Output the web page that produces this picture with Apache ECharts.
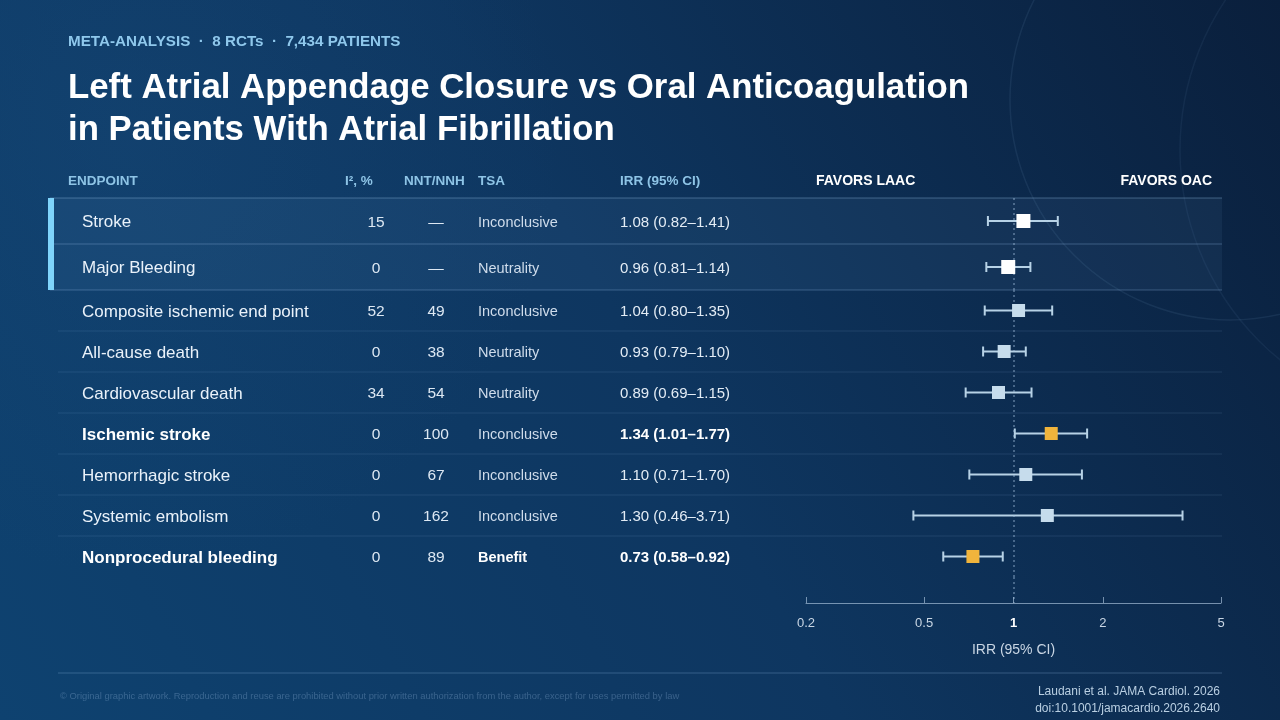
<!DOCTYPE html>
<html>
<head>
<meta charset="utf-8">
<script src="https://cdn.jsdelivr.net/npm/echarts@6/dist/echarts.min.js"></script>
<style>
html,body{margin:0;padding:0;background:#0c2b4d;}
#c{width:1280px;height:720px;}
</style>
</head>
<body>
<div id="c"></div>
<script>
// ---------- DATA ----------
var endpoints = ['Stroke','Major Bleeding','Composite ischemic end point','All-cause death','Cardiovascular death','Ischemic stroke','Hemorrhagic stroke','Systemic embolism','Nonprocedural bleeding'];
var i2Values = [15, 0, 52, 0, 34, 0, 0, 0, 0];
var nntValues = ['—', '—', 49, 38, 54, 100, 67, 162, 89];
var tsaValues = ['Inconclusive','Neutrality','Inconclusive','Neutrality','Neutrality','Inconclusive','Inconclusive','Inconclusive','Benefit'];
var irrValues = [1.08, 0.96, 1.04, 0.93, 0.89, 1.34, 1.10, 1.30, 0.73];
var ciLow = [0.82, 0.81, 0.80, 0.79, 0.69, 1.01, 0.71, 0.46, 0.58];
var ciHigh = [1.41, 1.14, 1.35, 1.10, 1.15, 1.77, 1.70, 3.71, 0.92];
var primaryCount = 2;
var axisTicks = [0.2, 0.5, 1, 2, 5];

// ---------- LAYOUT ----------
var FONT = '"Liberation Sans", Arial, Helvetica, sans-serif';
var TABLE_TOP = 198, PRIMARY_H = 46, ROW_H = 41;
var PLOT_L = 806, PLOT_R = 1221;
var secTop = TABLE_TOP + primaryCount * PRIMARY_H;
var secH = (endpoints.length - primaryCount) * ROW_H;
var axisY = 603;

function sig(i){ return ciLow[i] > 1 || ciHigh[i] < 1; }
function fmt(v){ return v.toFixed(2); }

// table columns: anchor x, alignment, text getter, bold rule, styles
var columns = [
  {x: 82, align: 'left', text: function(i){ return endpoints[i]; }, bold: function(i){ return sig(i); },
   st: {fontSize: 17, color: '#eaf2fa'}},
  {x: 376, align: 'center', text: function(i){ return String(i2Values[i]); }, bold: function(){ return false; },
   st: {fontSize: 15.5, color: '#dde8f3'}},
  {x: 436, align: 'center', text: function(i){ return String(nntValues[i]); }, bold: function(){ return false; },
   st: {fontSize: 15.5, color: '#dde8f3'}},
  {x: 478, align: 'left', text: function(i){ return tsaValues[i]; }, bold: function(i){ return tsaValues[i] === 'Benefit'; },
   st: {fontSize: 14.5, color: '#cfdceb'}},
  {x: 620, align: 'left', text: function(i){ return fmt(irrValues[i]) + ' (' + fmt(ciLow[i]) + '–' + fmt(ciHigh[i]) + ')'; }, bold: function(i){ return sig(i); },
   st: {fontSize: 15, color: '#e3ecf5'}}
];

function xAxisCfg(gi, showAxis){
  return {
    type: 'log', gridIndex: gi, min: 0.2, max: 5, logBase: 10,
    axisLine: {show: showAxis, lineStyle: {color: 'rgba(175,200,225,0.65)', width: 1}},
    axisTick: {show: showAxis, inside: true, length: 6, customValues: axisTicks, lineStyle: {color: 'rgba(175,200,225,0.65)'}},
    axisLabel: {show: showAxis, customValues: axisTicks, margin: 14, fontSize: 13, color: '#c9d6e4', fontFamily: FONT,
      formatter: function(v){ return Math.abs(v - 1) < 1e-9 ? '{b|1}' : String(+v.toPrecision(3)); },
      rich: {b: {fontWeight: 'bold', color: '#ffffff', fontSize: 13, fontFamily: FONT}}},
    splitLine: {show: false}, minorTick: {show: false}, minorSplitLine: {show: false},
    name: showAxis ? 'IRR (95% CI)' : '', nameLocation: 'middle', nameGap: 40,
    nameTextStyle: {color: '#c9d6e4', fontSize: 14, fontFamily: FONT}
  };
}

function baseY(gi, cats){
  return {type: 'category', gridIndex: gi, data: cats, inverse: true,
    axisLine: {show: false}, axisTick: {show: false}, splitLine: {show: false}, axisLabel: {show: false}};
}

function colY(gi, cats, offset, col){
  var plain = Object.assign({fontFamily: FONT, padding: [3, 0, 0, 0]}, col.st);
  var bold = Object.assign({fontFamily: FONT, padding: [3, 0, 0, 0]}, col.st, {fontWeight: 'bold', color: '#ffffff'});
  return {
    type: 'category', gridIndex: gi, data: cats, inverse: true, position: 'left',
    offset: PLOT_L - col.x,
    axisLine: {show: false}, axisTick: {show: false}, splitLine: {show: false},
    axisLabel: {show: true, margin: 0, align: col.align,
      formatter: function(v, idx){ var i = idx + offset; return '{' + (col.bold(i) ? 'b' : 'p') + '|' + col.text(i) + '}'; },
      rich: {p: plain, b: bold}}
  };
}

function ciSeries(yi, gi, offset, count){
  var data = [];
  for (var k = 0; k < count; k++) data.push([ciLow[k + offset], ciHigh[k + offset], k]);
  return {
    type: 'custom', xAxisIndex: gi, yAxisIndex: yi, silent: true, z: 3,
    data: data,
    encode: {x: [0, 1], y: 2},
    renderItem: function(params, api){
      var a = api.coord([api.value(0), api.value(2)]);
      var b = api.coord([api.value(1), api.value(2)]);
      var st = {stroke: '#b7d2e6', lineWidth: 2};
      var cap = 5;
      return {type: 'group', children: [
        {type: 'line', shape: {x1: a[0], y1: a[1], x2: b[0], y2: b[1]}, style: st},
        {type: 'line', shape: {x1: a[0], y1: a[1] - cap, x2: a[0], y2: a[1] + cap}, style: st},
        {type: 'line', shape: {x1: b[0], y1: b[1] - cap, x2: b[0], y2: b[1] + cap}, style: st}
      ]};
    }
  };
}

function refLine(){
  return {silent: true, symbol: ['none', 'none'], label: {show: false},
    lineStyle: {type: [2, 3], color: 'rgba(170,200,230,0.5)', width: 1.5},
    data: [{xAxis: 1}]};
}

function pointSeries(yi, gi, offset, count, primary){
  var data = [];
  for (var k = 0; k < count; k++) {
    var i = k + offset;
    var col = primary ? '#ffffff' : (sig(i) ? '#f0b43c' : '#c6dcec');
    data.push({value: [irrValues[i], k], itemStyle: {color: col, opacity: 1}});
  }
  return {type: 'scatter', xAxisIndex: gi, yAxisIndex: yi, symbol: 'rect', symbolSize: primary ? 14 : 13, z: 5, silent: true,
    itemStyle: {opacity: 1}, data: data, markLine: refLine()};
}

var chart = echarts.init(document.getElementById('c'), null, {renderer: 'canvas'});

// background + decorative elements + headers
var g = [];
g.push({type: 'rect', z: -10, silent: true, shape: {x: 0, y: 0, width: 1280, height: 720},
  style: {fill: new echarts.graphic.LinearGradient(0, 1, 1, 0, [
    {offset: 0, color: '#0e4270'}, {offset: 0.5, color: '#0e3660'}, {offset: 1, color: '#0a1f3c'}])}});
g.push({type: 'rect', z: -9, silent: true, shape: {x: 0, y: 0, width: 1280, height: 720},
  style: {fill: new echarts.graphic.RadialGradient(0.1, 0.2, 0.6, [
    {offset: 0, color: 'rgba(30,80,130,0.25)'}, {offset: 1, color: 'rgba(30,80,130,0)'}])}});
g.push({type: 'circle', z: -8, silent: true, shape: {cx: 1230, cy: 100, r: 220},
  style: {fill: 'rgba(0,0,0,0)', stroke: 'rgba(140,180,220,0.10)', lineWidth: 1.5}});
g.push({type: 'circle', z: -8, silent: true, shape: {cx: 1450, cy: 150, r: 270},
  style: {fill: 'rgba(0,0,0,0)', stroke: 'rgba(140,180,220,0.07)', lineWidth: 1.5}});

g.push({type: 'text', left: 68, top: 34, silent: true, style: {text: 'META-ANALYSIS  ·  8 RCTs  ·  7,434 PATIENTS', fill: '#8fc8ec', font: 'bold 15.2px ' + FONT}});
g.push({type: 'text', left: 68, top: 67, silent: true, style: {text: 'Left Atrial Appendage Closure vs Oral Anticoagulation\nin Patients With Atrial Fibrillation', fill: '#ffffff', font: 'bold 34.8px ' + FONT, lineHeight: 42}});

var hdrFont = 'bold 13.5px ' + FONT, hdrCol = '#8ec4e6';
g.push({type: 'text', left: 68, top: 174, silent: true, style: {text: 'ENDPOINT', fill: hdrCol, font: hdrFont}});
g.push({type: 'text', left: 345, top: 174, silent: true, style: {text: 'I², %', fill: hdrCol, font: hdrFont}});
g.push({type: 'text', left: 404, top: 174, silent: true, style: {text: 'NNT/NNH', fill: hdrCol, font: hdrFont}});
g.push({type: 'text', left: 478, top: 174, silent: true, style: {text: 'TSA', fill: hdrCol, font: hdrFont}});
g.push({type: 'text', left: 620, top: 174, silent: true, style: {text: 'IRR (95% CI)', fill: hdrCol, font: hdrFont}});
g.push({type: 'text', left: 816, top: 174, silent: true, style: {text: 'FAVORS LAAC', fill: '#ffffff', font: 'bold 14px ' + FONT}});
g.push({type: 'text', right: 1280 - 1212, top: 174, silent: true, style: {text: 'FAVORS OAC', fill: '#ffffff', font: 'bold 14px ' + FONT, textAlign: 'right'}});

// primary band
g.push({type: 'rect', z: -5, silent: true, shape: {x: 50, y: TABLE_TOP, width: 1172, height: primaryCount * PRIMARY_H},
  style: {fill: 'rgba(120,170,220,0.08)'}});
g.push({type: 'rect', z: 1, silent: true, shape: {x: 48, y: TABLE_TOP, width: 6, height: primaryCount * PRIMARY_H},
  style: {fill: '#7fd4fb'}});
// lines
function hline(x1, x2, y, col){ g.push({type: 'line', z: 0, silent: true, shape: {x1: x1, y1: y, x2: x2, y2: y}, style: {stroke: col, lineWidth: 1}}); }
hline(50, 1222, TABLE_TOP, 'rgba(150,190,230,0.38)');
for (var p = 1; p <= primaryCount; p++) hline(50, 1222, TABLE_TOP + p * PRIMARY_H, 'rgba(150,190,230,0.32)');
for (var q = 1; q < endpoints.length - primaryCount; q++) hline(58, 1222, secTop + q * ROW_H, 'rgba(150,190,230,0.14)');
hline(58, 1222, 673, 'rgba(150,190,230,0.30)');

g.push({type: 'text', left: 60, top: 692, silent: true, style: {text: '© Original graphic artwork. Reproduction and reuse are prohibited without prior written authorization from the author, except for uses permitted by law', fill: 'rgba(150,185,220,0.32)', font: '9.4px ' + FONT}});
g.push({type: 'text', right: 60, top: 683, silent: true, style: {text: 'Laudani et al. JAMA Cardiol. 2026\ndoi:10.1001/jamacardio.2026.2640', fill: '#b9cfe2', font: '12px ' + FONT, lineHeight: 17, textAlign: 'right'}});

var priCats = endpoints.slice(0, primaryCount);
var secCats = endpoints.slice(primaryCount);

var yAxes = [];
yAxes.push(baseY(0, priCats));
columns.forEach(function(c){ yAxes.push(colY(0, priCats, 0, c)); });
var y1 = yAxes.length;
yAxes.push(baseY(1, secCats));
columns.forEach(function(c){ yAxes.push(colY(1, secCats, primaryCount, c)); });
var y2 = yAxes.length;
yAxes.push(baseY(2, ['axis']));

chart.setOption({
  animation: false,
  textStyle: {fontFamily: FONT},
  graphic: g,
  grid: [
    {left: PLOT_L, width: PLOT_R - PLOT_L, top: TABLE_TOP, height: primaryCount * PRIMARY_H, containLabel: false},
    {left: PLOT_L, width: PLOT_R - PLOT_L, top: secTop, height: secH, containLabel: false},
    {left: PLOT_L, width: PLOT_R - PLOT_L, top: secTop + secH, height: axisY - secTop - secH, containLabel: false}
  ],
  xAxis: [xAxisCfg(0, false), xAxisCfg(1, false), xAxisCfg(2, true)],
  yAxis: yAxes,
  series: [
    ciSeries(0, 0, 0, primaryCount),
    pointSeries(0, 0, 0, primaryCount, true),
    ciSeries(y1, 1, primaryCount, endpoints.length - primaryCount),
    pointSeries(y1, 1, primaryCount, endpoints.length - primaryCount, false),
    {type: 'scatter', xAxisIndex: 2, yAxisIndex: y2, symbolSize: 0, silent: true, data: [[1, 0]], markLine: refLine()}
  ]
});
</script>
</body>
</html>
